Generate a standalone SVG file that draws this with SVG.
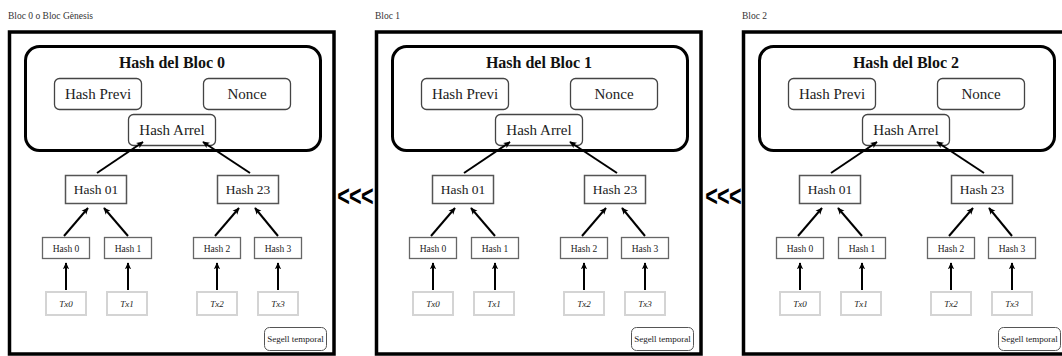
<svg xmlns="http://www.w3.org/2000/svg" width="1062" height="356" viewBox="0 0 1062 356">
<style>
text{font-family:"Liberation Serif","DejaVu Serif",serif;fill:#222}
.title{font-size:9.5px;fill:#333}
.outer{fill:#fff;stroke:#000;stroke-width:3.5}
.head{fill:none;stroke:#000;stroke-width:3}
.hb{font-size:16px;font-weight:bold;text-anchor:middle;fill:#111}
.rb{fill:#fff;stroke:#444;stroke-width:1.3}
.rt{font-size:15px;text-anchor:middle}
.mb{fill:#fff;stroke:#555;stroke-width:1.5}
.mt{font-size:13.5px;text-anchor:middle}
.lb{fill:#fff;stroke:#666;stroke-width:1.3}
.lt{font-size:9.5px;text-anchor:middle}
.tb{fill:#fff;stroke:#d4d4d4;stroke-width:2}
.tt{font-size:9px;font-style:italic;text-anchor:middle}
.sb{fill:#fff;stroke:#555;stroke-width:1}
.st{font-size:9px;text-anchor:middle}
.chev{font-family:"Liberation Sans","DejaVu Sans",sans-serif;font-size:30px;font-weight:bold;fill:#000;text-anchor:middle;letter-spacing:-1px}
.cn{fill:none;stroke:#000;stroke-width:2;marker-end:url(#ah)}
</style>
<defs>
<marker id="ah" viewBox="0 0 10 10" refX="9" refY="5" markerWidth="7" markerHeight="7" markerUnits="userSpaceOnUse" orient="auto">
<path d="M0,0.5 L10,5 L0,9.5 L2.5,5 z" fill="#000"/>
</marker>
</defs>
<rect width="1062" height="356" fill="#fff"/>

<g id="block0">
<text class="title" x="8" y="19">Bloc 0 o Bloc Gènesis</text>
<rect class="outer" x="9.5" y="32" width="324.5" height="322"/>
<g id="b0-header"><rect class="head" x="25.5" y="46.5" width="295" height="104" rx="14"/><text class="hb" x="172" y="68">Hash del Bloc 0</text></g>
<g id="b0-prev"><rect class="rb" x="54.5" y="78.5" width="87" height="31" rx="5"/><text class="rt" x="98" y="99">Hash Previ</text></g>
<g id="b0-nonce"><rect class="rb" x="203.5" y="78.5" width="87" height="31" rx="5"/><text class="rt" x="247" y="99">Nonce</text></g>
<g id="b0-root"><rect class="rb" x="128.5" y="114.5" width="87" height="31" rx="5"/><text class="rt" x="172" y="135">Hash Arrel</text></g>
<g id="b0-h01"><rect class="mb" x="65.5" y="175.5" width="61" height="28"/><text class="mt" x="96" y="194">Hash 01</text></g>
<g id="b0-h23"><rect class="mb" x="217.5" y="175.5" width="61" height="28"/><text class="mt" x="248" y="194">Hash 23</text></g>
<g id="b0-h0"><rect class="lb" x="42.5" y="237.5" width="47" height="21"/><text class="lt" x="66" y="251.5">Hash 0</text></g>
<g id="b0-h1"><rect class="lb" x="104.5" y="237.5" width="47" height="21"/><text class="lt" x="128" y="251.5">Hash 1</text></g>
<g id="b0-h2"><rect class="lb" x="193.5" y="237.5" width="47" height="21"/><text class="lt" x="217" y="251.5">Hash 2</text></g>
<g id="b0-h3"><rect class="lb" x="254.5" y="237.5" width="47" height="21"/><text class="lt" x="278" y="251.5">Hash 3</text></g>
<g id="b0-tx0"><rect class="tb" x="46" y="292" width="40" height="23"/><text class="tt" x="66" y="307">Tx0</text></g>
<g id="b0-tx1"><rect class="tb" x="107" y="292" width="40" height="23"/><text class="tt" x="127" y="307">Tx1</text></g>
<g id="b0-tx2"><rect class="tb" x="197" y="292" width="40" height="23"/><text class="tt" x="217" y="307">Tx2</text></g>
<g id="b0-tx3"><rect class="tb" x="258" y="292" width="40" height="23"/><text class="tt" x="278" y="307">Tx3</text></g>
<g id="b0-seal"><rect class="sb" x="264.5" y="327.5" width="62" height="23" rx="5"/><text class="st" x="295.5" y="342">Segell temporal</text></g>
</g>

<g id="block1" transform="translate(367,0)">
<text class="title" x="8" y="19">Bloc 1</text>
<rect class="outer" x="9.5" y="32" width="324.5" height="322"/>
<g id="b1-header"><rect class="head" x="25.5" y="46.5" width="295" height="104" rx="14"/><text class="hb" x="172" y="68">Hash del Bloc 1</text></g>
<g id="b1-prev"><rect class="rb" x="54.5" y="78.5" width="87" height="31" rx="5"/><text class="rt" x="98" y="99">Hash Previ</text></g>
<g id="b1-nonce"><rect class="rb" x="203.5" y="78.5" width="87" height="31" rx="5"/><text class="rt" x="247" y="99">Nonce</text></g>
<g id="b1-root"><rect class="rb" x="128.5" y="114.5" width="87" height="31" rx="5"/><text class="rt" x="172" y="135">Hash Arrel</text></g>
<g id="b1-h01"><rect class="mb" x="65.5" y="175.5" width="61" height="28"/><text class="mt" x="96" y="194">Hash 01</text></g>
<g id="b1-h23"><rect class="mb" x="217.5" y="175.5" width="61" height="28"/><text class="mt" x="248" y="194">Hash 23</text></g>
<g id="b1-h0"><rect class="lb" x="42.5" y="237.5" width="47" height="21"/><text class="lt" x="66" y="251.5">Hash 0</text></g>
<g id="b1-h1"><rect class="lb" x="104.5" y="237.5" width="47" height="21"/><text class="lt" x="128" y="251.5">Hash 1</text></g>
<g id="b1-h2"><rect class="lb" x="193.5" y="237.5" width="47" height="21"/><text class="lt" x="217" y="251.5">Hash 2</text></g>
<g id="b1-h3"><rect class="lb" x="254.5" y="237.5" width="47" height="21"/><text class="lt" x="278" y="251.5">Hash 3</text></g>
<g id="b1-tx0"><rect class="tb" x="46" y="292" width="40" height="23"/><text class="tt" x="66" y="307">Tx0</text></g>
<g id="b1-tx1"><rect class="tb" x="107" y="292" width="40" height="23"/><text class="tt" x="127" y="307">Tx1</text></g>
<g id="b1-tx2"><rect class="tb" x="197" y="292" width="40" height="23"/><text class="tt" x="217" y="307">Tx2</text></g>
<g id="b1-tx3"><rect class="tb" x="258" y="292" width="40" height="23"/><text class="tt" x="278" y="307">Tx3</text></g>
<g id="b1-seal"><rect class="sb" x="264.5" y="327.5" width="62" height="23" rx="5"/><text class="st" x="295.5" y="342">Segell temporal</text></g>
</g>

<g id="block2" transform="translate(734,0)">
<text class="title" x="8" y="19">Bloc 2</text>
<rect class="outer" x="9.5" y="32" width="324.5" height="322"/>
<g id="b2-header"><rect class="head" x="25.5" y="46.5" width="295" height="104" rx="14"/><text class="hb" x="172" y="68">Hash del Bloc 2</text></g>
<g id="b2-prev"><rect class="rb" x="54.5" y="78.5" width="87" height="31" rx="5"/><text class="rt" x="98" y="99">Hash Previ</text></g>
<g id="b2-nonce"><rect class="rb" x="203.5" y="78.5" width="87" height="31" rx="5"/><text class="rt" x="247" y="99">Nonce</text></g>
<g id="b2-root"><rect class="rb" x="128.5" y="114.5" width="87" height="31" rx="5"/><text class="rt" x="172" y="135">Hash Arrel</text></g>
<g id="b2-h01"><rect class="mb" x="65.5" y="175.5" width="61" height="28"/><text class="mt" x="96" y="194">Hash 01</text></g>
<g id="b2-h23"><rect class="mb" x="217.5" y="175.5" width="61" height="28"/><text class="mt" x="248" y="194">Hash 23</text></g>
<g id="b2-h0"><rect class="lb" x="42.5" y="237.5" width="47" height="21"/><text class="lt" x="66" y="251.5">Hash 0</text></g>
<g id="b2-h1"><rect class="lb" x="104.5" y="237.5" width="47" height="21"/><text class="lt" x="128" y="251.5">Hash 1</text></g>
<g id="b2-h2"><rect class="lb" x="193.5" y="237.5" width="47" height="21"/><text class="lt" x="217" y="251.5">Hash 2</text></g>
<g id="b2-h3"><rect class="lb" x="254.5" y="237.5" width="47" height="21"/><text class="lt" x="278" y="251.5">Hash 3</text></g>
<g id="b2-tx0"><rect class="tb" x="46" y="292" width="40" height="23"/><text class="tt" x="66" y="307">Tx0</text></g>
<g id="b2-tx1"><rect class="tb" x="107" y="292" width="40" height="23"/><text class="tt" x="127" y="307">Tx1</text></g>
<g id="b2-tx2"><rect class="tb" x="197" y="292" width="40" height="23"/><text class="tt" x="217" y="307">Tx2</text></g>
<g id="b2-tx3"><rect class="tb" x="258" y="292" width="40" height="23"/><text class="tt" x="278" y="307">Tx3</text></g>
<g id="b2-seal"><rect class="sb" x="264.5" y="327.5" width="62" height="23" rx="5"/><text class="st" x="295.5" y="342">Segell temporal</text></g>
</g>

<g id="links">
<text id="link-1-0" class="chev" transform="translate(355,206) scale(0.72,1)" x="0" y="0">&lt;&lt;&lt;</text>
<text id="link-2-1" class="chev" transform="translate(723,206) scale(0.72,1)" x="0" y="0">&lt;&lt;&lt;</text>
</g>

<g id="connectors">
<g transform="translate(0,0)">
<path class="cn" d="M97,173 L143,142"/><path class="cn" d="M250,173 L203,142"/>
<path class="cn" d="M64,236 L88,208"/><path class="cn" d="M128,236 L104,208"/>
<path class="cn" d="M215,236 L239,208"/><path class="cn" d="M278,236 L255,208"/>
<path class="cn" d="M66,290 V263"/><path class="cn" d="M128,290 V263"/>
<path class="cn" d="M217,290 V263"/><path class="cn" d="M278,290 V263"/>
</g>
<g transform="translate(367,0)">
<path class="cn" d="M97,173 L143,142"/><path class="cn" d="M250,173 L203,142"/>
<path class="cn" d="M64,236 L88,208"/><path class="cn" d="M128,236 L104,208"/>
<path class="cn" d="M215,236 L239,208"/><path class="cn" d="M278,236 L255,208"/>
<path class="cn" d="M66,290 V263"/><path class="cn" d="M128,290 V263"/>
<path class="cn" d="M217,290 V263"/><path class="cn" d="M278,290 V263"/>
</g>
<g transform="translate(734,0)">
<path class="cn" d="M97,173 L143,142"/><path class="cn" d="M250,173 L203,142"/>
<path class="cn" d="M64,236 L88,208"/><path class="cn" d="M128,236 L104,208"/>
<path class="cn" d="M215,236 L239,208"/><path class="cn" d="M278,236 L255,208"/>
<path class="cn" d="M66,290 V263"/><path class="cn" d="M128,290 V263"/>
<path class="cn" d="M217,290 V263"/><path class="cn" d="M278,290 V263"/>
</g>
</g>
</svg>
